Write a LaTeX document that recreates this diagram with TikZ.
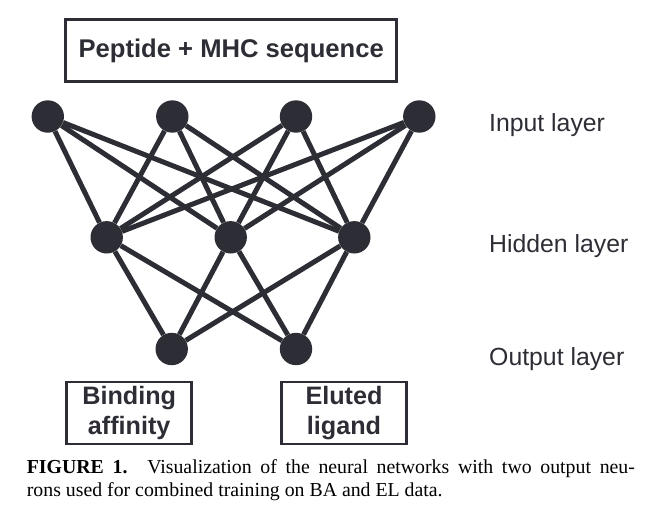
\documentclass[tikz,border=0pt]{standalone}
\usepackage{fontspec}
\setmainfont{Liberation Serif}
\newfontfamily\labelfont{Liberation Sans}
\definecolor{ink}{RGB}{45,46,53}
\begin{document}
\begin{tikzpicture}[x=1pt,y=-1pt,
		neuron/.style={circle,fill=ink,inner sep=0pt,minimum size=32.4pt},
		edge/.style={draw=ink,line width=5pt},
		databox/.style={draw=ink,line width=2.5pt,text=ink,inner sep=0pt,align=center,
			font=\labelfont\bfseries\fontsize{25.2}{30}\selectfont},
		layerlabel/.style={anchor=base west,inner sep=0pt,text=ink,
			font=\labelfont\fontsize{24.8}{29}\selectfont}]
		\useasboundingbox (0,0) rectangle (660,523);
		
		\node[databox,minimum width=331pt,minimum height=62pt,
			font=\labelfont\bfseries\fontsize{25.6}{30}\selectfont] (seq) at (231.2,50.5) {Peptide + MHC sequence};
		
		\node[neuron] (i1) at (47.8,116.5) {};
		\node[neuron] (i2) at (172.3,116.5) {};
		\node[neuron] (i3) at (296,116.5) {};
		\node[neuron] (i4) at (419.3,116.5) {};
		\node[neuron] (h1) at (106.7,237.3) {};
		\node[neuron] (h2) at (230.7,237.3) {};
		\node[neuron] (h3) at (354.3,237.3) {};
		\node[neuron] (o1) at (171.7,349) {};
		\node[neuron] (o2) at (296,349) {};
		
		\draw[edge] (i1) -- (h1) (i1) -- (h2) (i1) -- (h3);
		\draw[edge] (i2) -- (h1) (i2) -- (h2) (i2) -- (h3);
		\draw[edge] (i3) -- (h1) (i3) -- (h2) (i3) -- (h3);
		\draw[edge] (i4) -- (h1) (i4) -- (h2) (i4) -- (h3);
		\draw[edge] (h1) -- (o1) (h1) -- (o2);
		\draw[edge] (h2) -- (o1) (h2) -- (o2);
		\draw[edge] (h3) -- (o1) (h3) -- (o2);
		
		\node[databox,minimum width=125pt,minimum height=62pt] (ba) at (129.2,412.8) {Binding\\affinity};
		\node[databox,minimum width=125pt,minimum height=62pt] (el) at (344,412.8) {Eluted\\ligand};
		
		\node[layerlabel] (inlab) at (489,131.7) {Input layer};
		\node[layerlabel] (hidlab) at (489,252.7) {Hidden layer};
		\node[layerlabel] (outlab) at (489,365) {Output layer};
		
		\node[anchor=base west,inner sep=0pt,text width=608pt,align=justify,
			font=\fontsize{19.8}{23}\selectfont] (cap) at (26.7,473.3)
			{\textbf{FIGURE 1.}\quad Visualization of the neural networks with two output neu-\linebreak rons used for combined training on BA and EL data.};
\end{tikzpicture}
\end{document}
